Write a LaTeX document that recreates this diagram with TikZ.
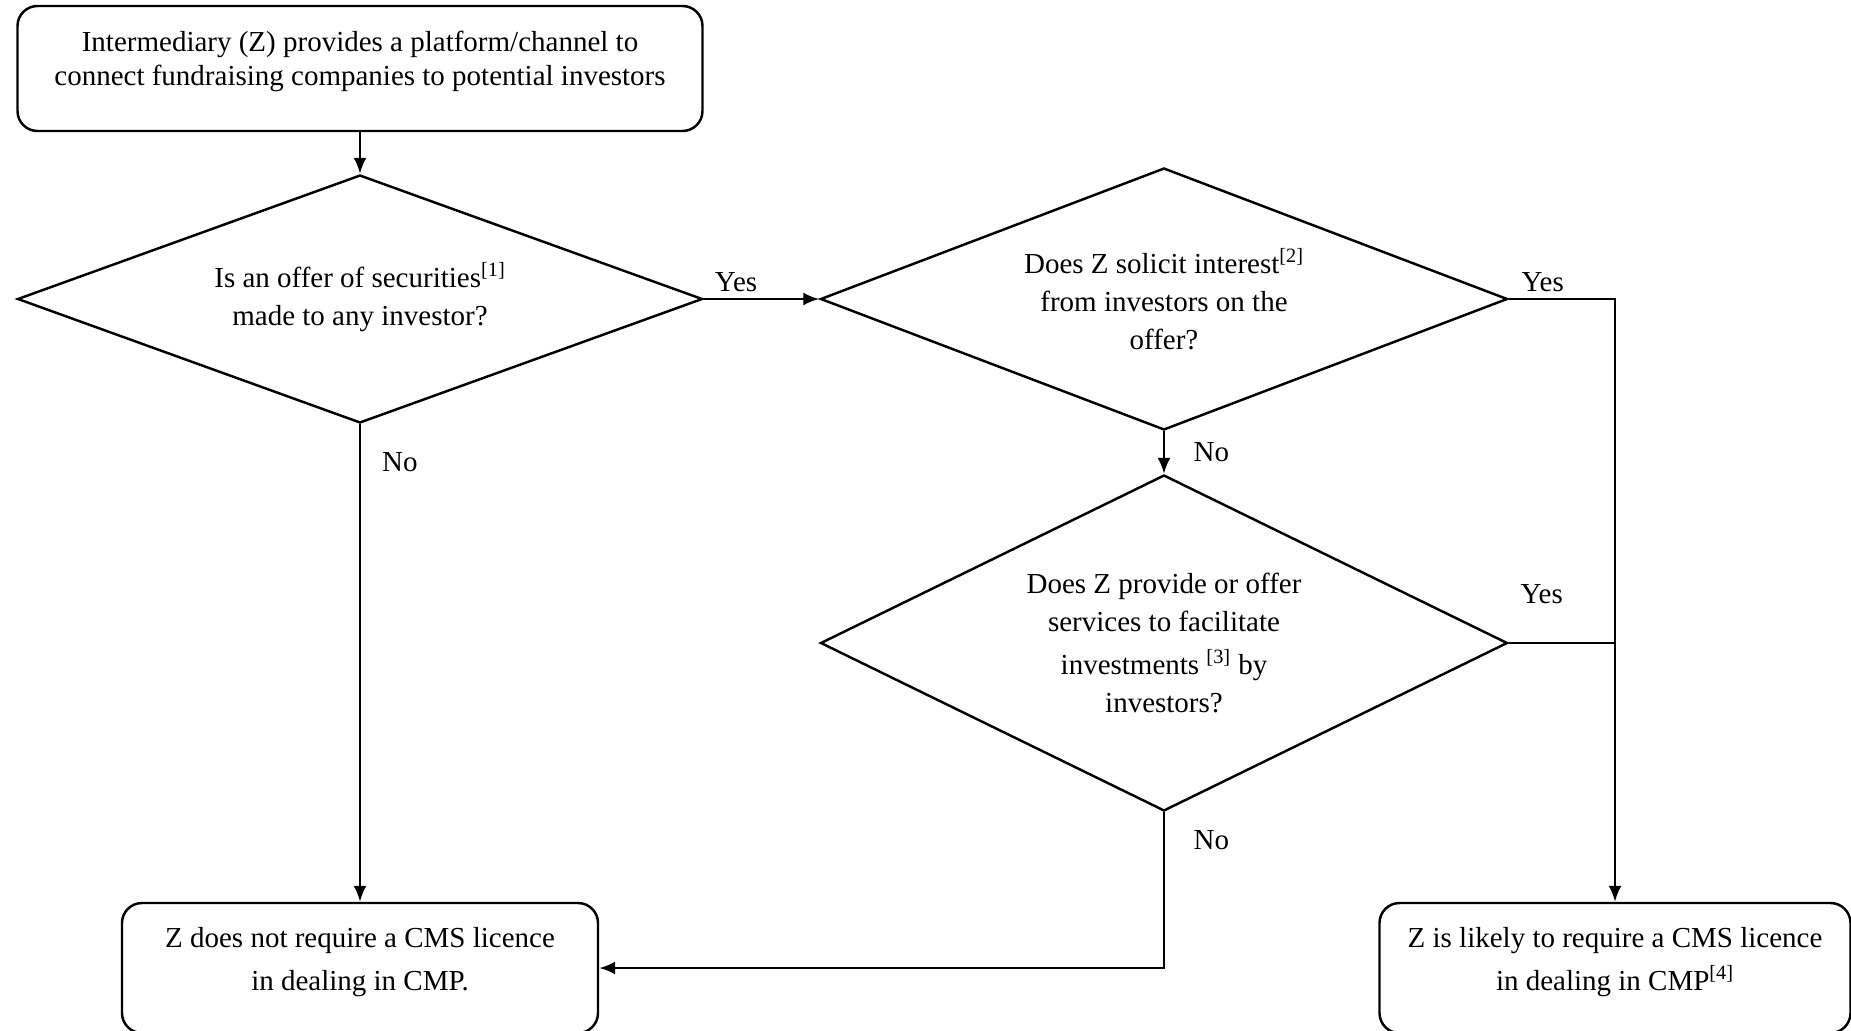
\documentclass[tikz,border=0pt]{standalone}
\usepackage{fontspec}
\setmainfont{Liberation Serif}
\usetikzlibrary{shapes.geometric,arrows.meta,positioning}
\tikzset{
  box/.style={draw, rounded corners=0.4cm, align=center, line width=1.4pt, inner sep=0pt},
  decision/.style={draw, diamond, align=center, line width=1.4pt, inner sep=0pt},
  link/.style={line width=1.4pt, -{Latex[length=3.2mm,width=2.6mm]}},
  line/.style={line width=1.4pt}
}
\begin{document}
\begin{tikzpicture}[font=\fontsize{16.5}{21.5}\selectfont]
      \useasboundingbox (0,0) rectangle (37.02,-20.6);
      \clip (0,0) rectangle (37.02,-20.6);
      % boxes and questions
      \node[box, minimum width=13.7cm, minimum height=2.5cm, text depth=0.4cm,
            font=\fontsize{16.5}{19.5}\selectfont] (start) at (7.2,-1.37)
        {Intermediary (Z) provides a platform/channel to\\connect fundraising companies to potential investors};
      \node[decision, aspect=2.76, minimum width=13.7cm, minimum height=4.96cm, text depth=0.2cm] (offer) at (7.2,-5.98)
        {Is an offer of securities\textsuperscript{[1]}\\made to any investor?};
      \node[decision, aspect=2.62, minimum width=13.74cm, minimum height=5.24cm] (solicit) at (23.28,-5.98)
        {Does Z solicit interest\textsuperscript{[2]}\\from investors on the\\offer?};
      \node[decision, aspect=2.04, minimum width=13.74cm, minimum height=6.72cm] (service) at (23.28,-12.86)
        {Does Z provide or offer\\services to facilitate\\[3pt]investments \textsuperscript{[3]} by\\investors?};
      \node[box, minimum width=9.52cm, minimum height=2.6cm, text depth=0.35cm,
            font=\fontsize{16.5}{24.5}\selectfont] (nolic) at (7.2,-19.36)
        {Z does not require a CMS licence\\in dealing in CMP.};
      \node[box, minimum width=9.42cm, minimum height=2.6cm, text depth=0.35cm,
            font=\fontsize{16.5}{24.5}\selectfont] (lic) at (32.3,-19.36)
        {Z is likely to require a CMS licence\\in dealing in CMP\textsuperscript{[4]}};
      % connectors
      \begin{scope}[link]
        \draw (start) to (offer);
        \draw (offer.east) to node[pos=0.28, above] {Yes} (solicit.west);
        \draw (offer.south) to node[pos=0.08, right=0.3cm] {No} (nolic.north);
        \draw (solicit.east) -| node[pos=0.16, above] {Yes} (lic.north);
        \draw (solicit.south) to node[right=0.45cm] {No} (service.north);
        \draw (service.south) |- node[pos=0.09, right=0.45cm] {No} (nolic.east);
      \end{scope}
      \draw[line] (service.east) -- node[pos=0.31, above=0.65cm] {Yes} (service.east -| lic.north);
    \end{tikzpicture}
\end{document}
